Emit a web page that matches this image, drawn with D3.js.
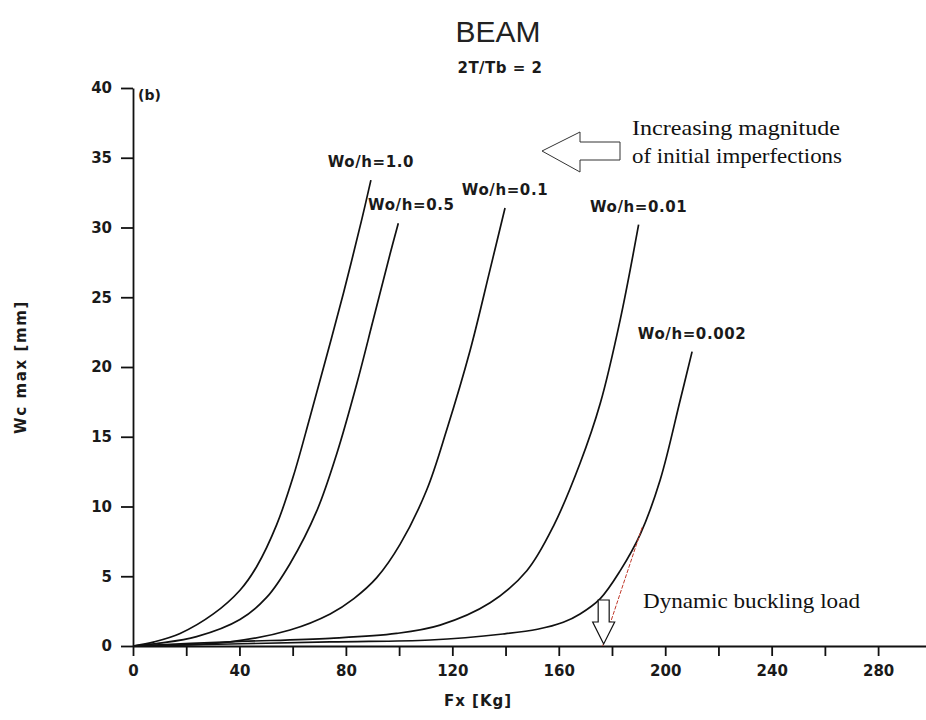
<!DOCTYPE html>
<html>
<head>
<meta charset="utf-8">
<script src="https://cdn.jsdelivr.net/npm/d3@7"></script>
<style>
  body { margin: 0; background: #fff; }
  .plot text { font-family: "DejaVu Sans", sans-serif; font-weight: bold; fill: #1a1a1a; }
  .serif { font-family: "Liberation Serif", "Times New Roman", serif; fill: #111; }
</style>
</head>
<body>
<div id="chart"></div>
<script>
// curve names (initial imperfection ratio)
const seriesNames = ["Wo/h=1.0", "Wo/h=0.5", "Wo/h=0.1", "Wo/h=0.01", "Wo/h=0.002"];

// Fx [Kg] / Wc max [mm]
const fx_10 = [0, 8, 17.7, 30.2, 40.2, 46.5, 54.0, 60.3, 66.5, 72.8, 79.1, 86.0, 89.4];
const wc_10 = [0, 0.3, 0.9, 2.3, 4.0, 5.7, 8.7, 12.2, 16.4, 20.8, 25.3, 30.6, 33.4];

const fx_05 = [0, 10, 23.9, 40.2, 50.3, 59.0, 69.1, 76.6, 84.1, 90.3, 96.6, 99.7];
const wc_05 = [0, 0.2, 0.67, 1.9, 3.5, 5.9, 9.7, 13.8, 18.8, 23.4, 28.1, 30.3];

const fx_01 = [0, 36.5, 59.0, 74.1, 83.0, 91.6, 100.4, 110.4, 117.9, 126.7, 134.2, 139.8];
const wc_01 = [0, 0.3, 1.15, 2.3, 3.4, 4.9, 7.3, 11.2, 15.5, 21.2, 27.0, 31.4];

const fx_001 = [0, 36.5, 74, 99, 115.4, 134.2, 148, 158, 168, 175.6, 183.1, 190];
const wc_001 = [0, 0.3, 0.55, 0.9, 1.5, 3.1, 5.4, 8.6, 13.1, 17.4, 23.4, 30.2];

const fx_0002 = [0, 74, 111.7, 139, 152, 161.7, 168, 175.6, 183.1, 190.6, 198.1, 205.6, 210.1];
const wc_0002 = [0, 0.29, 0.43, 0.86, 1.2, 1.7, 2.3, 3.4, 5.4, 8.0, 11.9, 17.6, 21.1];

const seriesFx = [fx_10, fx_05, fx_01, fx_001, fx_0002];
const seriesWc = [wc_10, wc_05, wc_01, wc_001, wc_0002];

// axis ticks
const xTicks = d3.range(0, 281, 20);
const yTicks = d3.range(0, 41, 5);

// dynamic buckling load and tangent point on the Wo/h=0.002 curve
const bucklingLoad = 176.5;
const tangentPoint = [191.5, 8.6];

const width = 926, height = 720;

const svg = d3.select("#chart").append("svg")
  .attr("width", width)
  .attr("height", height);

const x = d3.scaleLinear().domain([0, 298]).range([133, 926]);
const y = d3.scaleLinear().domain([0, 40]).range([646, 88]);

const plot = svg.append("g").attr("class", "plot");

// axes
plot.append("g")
  .attr("transform", `translate(0,${y(0)})`)
  .call(d3.axisBottom(x)
    .tickValues(xTicks)
    .tickFormat(d => d % 40 === 0 ? d : "")
    .tickSize(10)
    .tickSizeOuter(0)
    .tickPadding(9));

plot.append("g")
  .attr("transform", `translate(${x(0)},0)`)
  .call(d3.axisLeft(y)
    .tickValues(yTicks)
    .tickSize(12)
    .tickSizeOuter(0)
    .tickPadding(9));

plot.selectAll(".domain, .tick line")
  .attr("stroke", "#111")
  .attr("stroke-width", 1.8);
plot.selectAll(".tick text").style("font-size", "15px");

// axis titles
plot.append("text")
  .attr("x", 478)
  .attr("y", 706)
  .attr("text-anchor", "middle")
  .style("font-size", "15px")
  .style("letter-spacing", "1px")
  .text("Fx [Kg]");

plot.append("text")
  .attr("transform", `translate(26,${y(20)}) rotate(-90)`)
  .attr("text-anchor", "middle")
  .style("font-size", "15px")
  .style("letter-spacing", "1.6px")
  .text("Wc max [mm]");

plot.append("text")
  .attr("x", x(0) + 5)
  .attr("y", y(40) + 12)
  .style("font-size", "14px")
  .text("(b)");

// title
svg.append("text")
  .attr("x", 498)
  .attr("y", 42)
  .attr("text-anchor", "middle")
  .style("font-family", "'Liberation Sans', Arial, sans-serif")
  .style("font-size", "30px")
  .style("fill", "#222")
  .text("BEAM");

plot.append("text")
  .attr("x", 500)
  .attr("y", 73)
  .attr("text-anchor", "middle")
  .style("font-size", "15px")
  .style("letter-spacing", "0.5px")
  .text("2T/Tb = 2");

// curves
const line = d3.line()
  .x(d => x(d[0]))
  .y(d => y(d[1]))
  .curve(d3.curveCatmullRom.alpha(0.5));

const curves = seriesNames.map((name, i) => ({
  name: name,
  points: seriesFx[i].map((f, j) => [f, seriesWc[i][j]])
}));

plot.selectAll(".curve")
  .data(curves)
  .join("path")
  .attr("class", "curve")
  .attr("fill", "none")
  .attr("stroke", "#111")
  .attr("stroke-width", 1.7)
  .attr("d", d => line(d.points));

// labels sit just above each curve end
const labelShift = { "Wo/h=0.5": 13 };
plot.selectAll(".curve-label")
  .data(curves)
  .join("text")
  .attr("class", "curve-label")
  .attr("x", d => x(d.points[d.points.length - 1][0]) + (labelShift[d.name] || 0))
  .attr("y", d => y(d.points[d.points.length - 1][1]) - 13)
  .attr("text-anchor", "middle")
  .style("font-size", "15px")
  .style("letter-spacing", "0.6px")
  .text(d => d.name);

// tangent line to the buckling load
plot.append("line")
  .attr("x1", x(bucklingLoad))
  .attr("y1", y(0))
  .attr("x2", x(tangentPoint[0]))
  .attr("y2", y(tangentPoint[1]))
  .attr("stroke", "#c0392b")
  .attr("stroke-width", 1)
  .attr("stroke-dasharray", "4,1.5");

// hollow down arrow at buckling load
const bx = x(bucklingLoad) + 1, by = y(0) - 2;
svg.append("path")
  .attr("d", `M${bx},${by} L${bx - 11},${by - 22} L${bx - 5.5},${by - 22} L${bx - 5.5},${by - 44}
              L${bx + 5.5},${by - 44} L${bx + 5.5},${by - 22} L${bx + 11},${by - 22} Z`)
  .attr("fill", "#fff")
  .attr("stroke", "#111")
  .attr("stroke-width", 1.2);

svg.append("text")
  .attr("class", "serif")
  .attr("x", 643)
  .attr("y", 608)
  .attr("textLength", 217)
  .attr("lengthAdjust", "spacingAndGlyphs")
  .style("font-size", "22px")
  .text("Dynamic buckling load");

// hollow left arrow, increasing imperfections
const ax = 542, ay = 151;
svg.append("path")
  .attr("d", `M${ax},${ay} L${ax + 38},${ay - 19} L${ax + 38},${ay - 9} L${ax + 78},${ay - 9}
              L${ax + 78},${ay + 9} L${ax + 38},${ay + 9} L${ax + 38},${ay + 21} Z`)
  .attr("fill", "#fff")
  .attr("stroke", "#333")
  .attr("stroke-width", 1);

svg.append("text")
  .attr("class", "serif")
  .attr("x", 632)
  .attr("y", 135)
  .attr("textLength", 208)
  .attr("lengthAdjust", "spacingAndGlyphs")
  .style("font-size", "22px")
  .text("Increasing magnitude");

svg.append("text")
  .attr("class", "serif")
  .attr("x", 632)
  .attr("y", 163)
  .attr("textLength", 210)
  .attr("lengthAdjust", "spacingAndGlyphs")
  .style("font-size", "22px")
  .text("of initial imperfections");
</script>
</body>
</html>
